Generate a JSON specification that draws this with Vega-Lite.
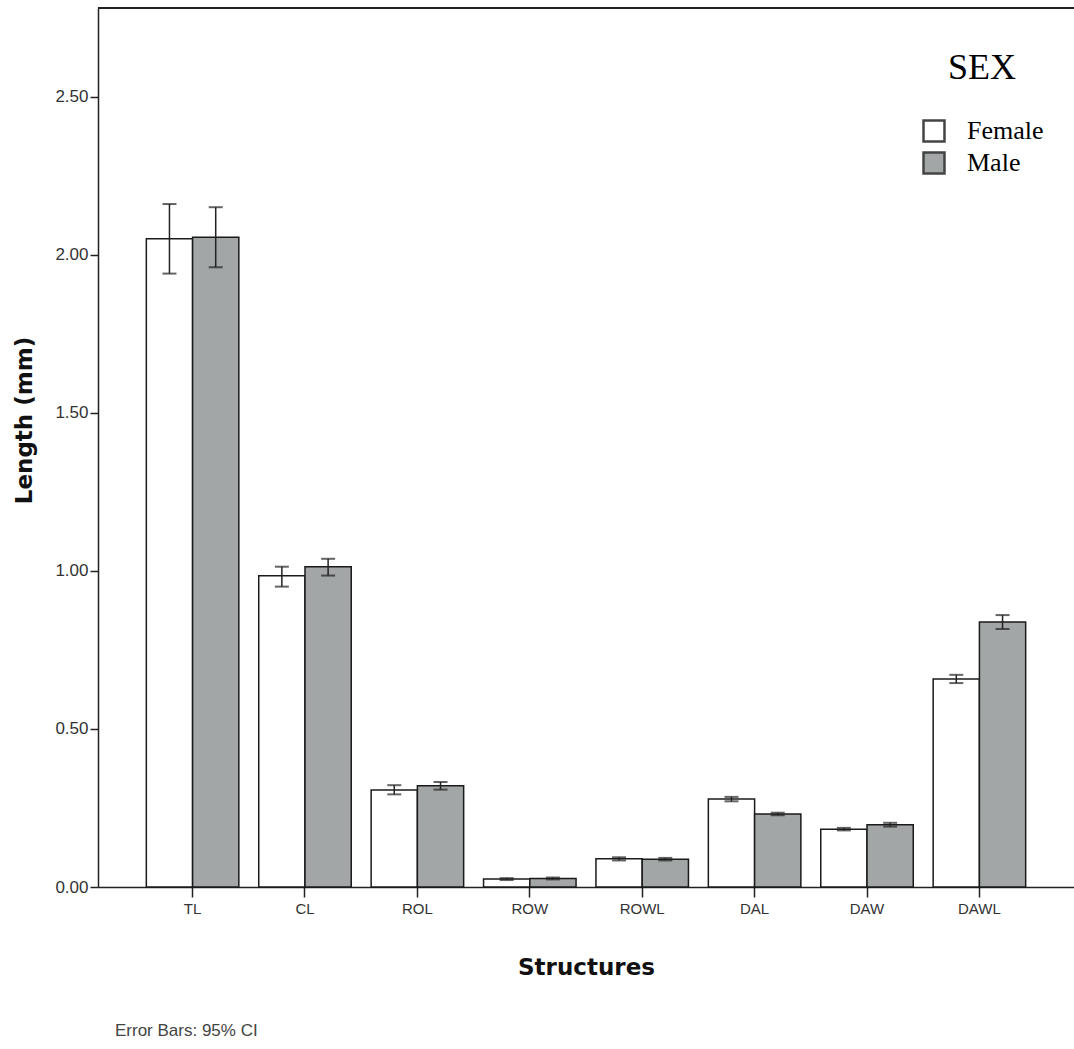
{
  "$schema": "https://vega.github.io/schema/vega-lite/v6.json",
  "autosize": "none",
  "width": 976,
  "height": 879,
  "padding": {"left": 98, "top": 8, "right": 0, "bottom": 162},
  "background": "white",
  "config": {"view": {"stroke": null}},
  "title": {
    "text": "Error Bars: 95% CI",
    "orient": "bottom",
    "anchor": "start",
    "frame": "group",
    "dx": 17,
    "offset": 44,
    "font": "Liberation Sans",
    "fontSize": 17,
    "fontWeight": "normal",
    "color": "#444444"
  },
  "data": {
    "values": [
      {"structure": "TL", "sex": "Female", "mean": 2.05, "lo": 1.94, "hi": 2.16},
      {"structure": "TL", "sex": "Male", "mean": 2.055, "lo": 1.96, "hi": 2.15},
      {"structure": "CL", "sex": "Female", "mean": 0.984, "lo": 0.95, "hi": 1.013},
      {"structure": "CL", "sex": "Male", "mean": 1.013, "lo": 0.985, "hi": 1.038},
      {"structure": "ROL", "sex": "Female", "mean": 0.307, "lo": 0.293, "hi": 0.322},
      {"structure": "ROL", "sex": "Male", "mean": 0.32, "lo": 0.308, "hi": 0.332},
      {"structure": "ROW", "sex": "Female", "mean": 0.025, "lo": 0.022, "hi": 0.028},
      {"structure": "ROW", "sex": "Male", "mean": 0.027, "lo": 0.024, "hi": 0.03},
      {"structure": "ROWL", "sex": "Female", "mean": 0.089, "lo": 0.084, "hi": 0.094},
      {"structure": "ROWL", "sex": "Male", "mean": 0.088, "lo": 0.084, "hi": 0.092},
      {"structure": "DAL", "sex": "Female", "mean": 0.278, "lo": 0.271, "hi": 0.285},
      {"structure": "DAL", "sex": "Male", "mean": 0.231, "lo": 0.227, "hi": 0.235},
      {"structure": "DAW", "sex": "Female", "mean": 0.183, "lo": 0.179, "hi": 0.187},
      {"structure": "DAW", "sex": "Male", "mean": 0.197, "lo": 0.191, "hi": 0.203},
      {"structure": "DAWL", "sex": "Female", "mean": 0.658, "lo": 0.645, "hi": 0.671},
      {"structure": "DAWL", "sex": "Male", "mean": 0.838, "lo": 0.816, "hi": 0.86}
    ]
  },
  "encoding": {
    "x": {
      "field": "structure",
      "type": "nominal",
      "sort": ["TL", "CL", "ROL", "ROW", "ROWL", "DAL", "DAW", "DAWL"],
      "scale": {"paddingInner": 0.177, "paddingOuter": 0.43},
      "axis": {
        "title": "Structures",
        "titleFont": "DejaVu Sans",
        "titleFontSize": 23,
        "titleFontWeight": "bold",
        "titleColor": "#111111",
        "titlePadding": 40,
        "labelFont": "Liberation Sans",
        "labelFontSize": 15,
        "labelColor": "#333333",
        "labelAngle": 0,
        "labelPadding": 4,
        "tickSize": 10,
        "tickColor": "#222222",
        "tickWidth": 1.5,
        "domainColor": "#222222",
        "domainWidth": 1.5
      }
    },
    "xOffset": {"field": "sex", "type": "nominal", "sort": ["Female", "Male"]}
  },
  "layer": [
    {
      "mark": {"type": "bar", "stroke": "#1a1a1a", "strokeWidth": 1.5},
      "encoding": {
        "y": {
          "field": "mean",
          "type": "quantitative",
          "scale": {"domain": [0, 2.78], "nice": false},
          "axis": {
            "title": "Length (mm)",
            "titleFont": "DejaVu Sans",
            "titleFontSize": 23,
            "titleFontWeight": "bold",
            "titleColor": "#111111",
            "titlePadding": 18,
            "titleY": 412,
            "values": [0, 0.5, 1, 1.5, 2, 2.5],
            "format": ".2f",
            "labelFont": "Liberation Sans",
            "labelFontSize": 17,
            "labelColor": "#333333",
            "labelPadding": 2,
            "tickSize": 8,
            "tickColor": "#222222",
            "tickWidth": 1.5,
            "domainColor": "#222222",
            "domainWidth": 1.5,
            "grid": false
          }
        },
        "fill": {
          "field": "sex",
          "type": "nominal",
          "scale": {"domain": ["Female", "Male"], "range": ["#ffffff", "#a2a6a6"]},
          "legend": {
            "title": "SEX",
            "orient": "none",
            "legendX": 823,
            "legendY": 43,
            "titleFont": "Liberation Serif",
            "titleFontSize": 36,
            "titleFontWeight": "normal",
            "titleColor": "#000000",
            "titleAnchor": "middle",
            "titlePadding": 31,
            "labelFont": "Liberation Serif",
            "labelFontSize": 26,
            "labelColor": "#000000",
            "labelOffset": 20,
            "symbolType": "square",
            "symbolSize": 440,
            "symbolStrokeColor": "#444444",
            "symbolStrokeWidth": 2.5,
            "rowPadding": 0
          }
        }
      }
    },
    {
      "mark": {"type": "rule", "color": "#222222", "strokeWidth": 1.5},
      "encoding": {
        "y": {"field": "lo", "type": "quantitative"},
        "y2": {"field": "hi"}
      }
    },
    {
      "mark": {"type": "tick", "color": "#222222", "thickness": 2, "size": 14},
      "encoding": {"y": {"field": "hi", "type": "quantitative"}}
    },
    {
      "mark": {"type": "tick", "color": "#222222", "thickness": 2, "size": 14},
      "encoding": {"y": {"field": "lo", "type": "quantitative"}}
    },
    {
      "mark": {"type": "rule", "color": "#222222", "strokeWidth": 1.5},
      "encoding": {"y": {"datum": 2.78}, "x": {"value": 0}, "x2": {"value": 976}, "xOffset": null}
    }
  ]
}
